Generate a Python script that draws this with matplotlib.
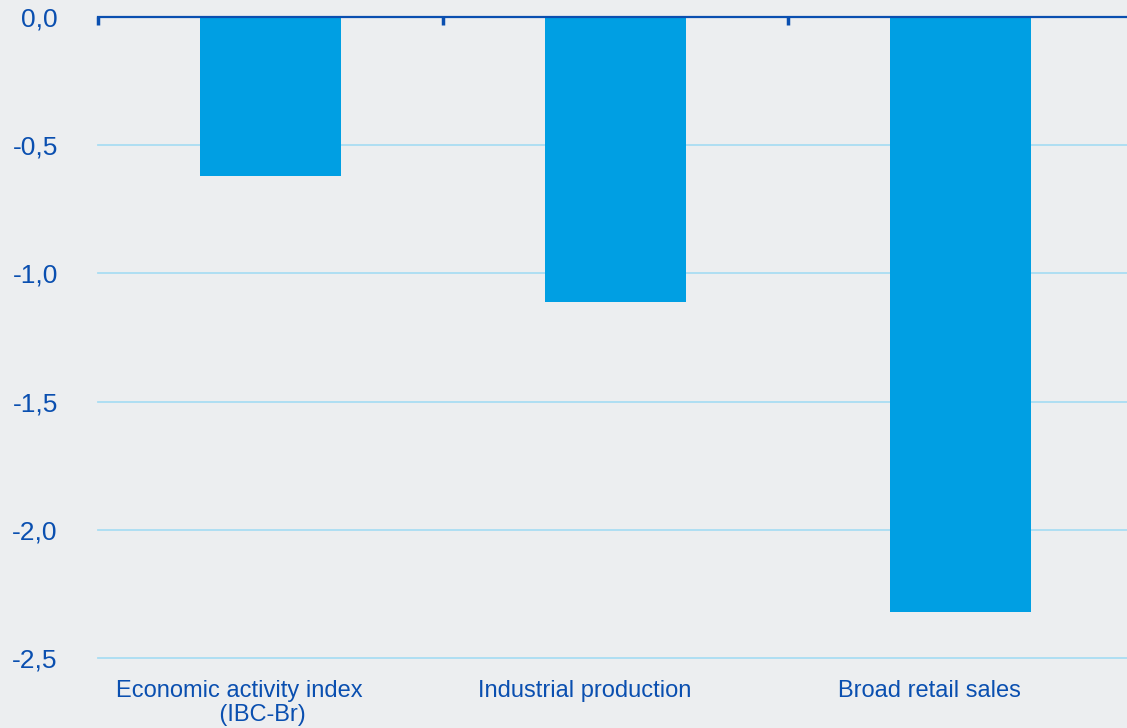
import numpy as np
import matplotlib.pyplot as plt
import matplotlib.transforms as mtransforms

categories = ["Economic activity index\n       (IBC-Br)", "Industrial production", "Broad retail sales"]
values = [-0.62, -1.11, -2.32]
yticks = [0.0, -0.5, -1.0, -1.5, -2.0, -2.5]

bg = "#ECEEF0"
bar_color = "#009FE3"
dark_blue = "#0A4FB0"
grid_color = "#A9DDF3"

plt.rcParams['font.family'] = ['Liberation Sans', 'DejaVu Sans']

fig = plt.figure(figsize=(11.27, 7.28), dpi=100, facecolor=bg)
ax = fig.add_axes([0.087, 0.0962, 0.918, 0.8804], facecolor=bg)

x = np.arange(len(categories))
ax.bar(x, values, width=0.41, color=bar_color, zorder=3)

ax.set_xlim(-0.5, 2.5)
ax.set_ylim(-2.5, 0)
ax.set_yticks(yticks)
ax.set_yticklabels([f"{v:.1f}".replace(".", ",") for v in yticks])
ax.yaxis.grid(True, color=grid_color, lw=1.3)
ax.set_axisbelow(True)
for gl in ax.get_ygridlines():
    gl.set_clip_on(False)

ax.set_xticks(x)
ax.set_xticklabels(categories, linespacing=1.1)
ax.set_xticks([-0.5, 0.5, 1.5], minor=True)
ax.tick_params(axis='x', which='major', length=0, pad=16, labelsize=17, labelcolor=dark_blue)
ax.tick_params(axis='x', which='minor', bottom=False, top=True, direction='in',
               length=6, width=2.5, color=dark_blue)
ax.tick_params(axis='y', length=0, pad=29, labelsize=19, labelcolor=dark_blue)

# category labels sit a bit left of the bar centres in the original
shift = mtransforms.ScaledTranslation(-31 / 100, 0, fig.dpi_scale_trans)
for lbl in ax.get_xticklabels():
    lbl.set_transform(lbl.get_transform() + shift)

for s in ['left', 'right', 'bottom']:
    ax.spines[s].set_visible(False)
ax.spines['top'].set_color(dark_blue)
ax.spines['top'].set_linewidth(1.6)
ax.spines['top'].set_zorder(4)

fig.savefig("out.png", dpi=100, facecolor=bg)
